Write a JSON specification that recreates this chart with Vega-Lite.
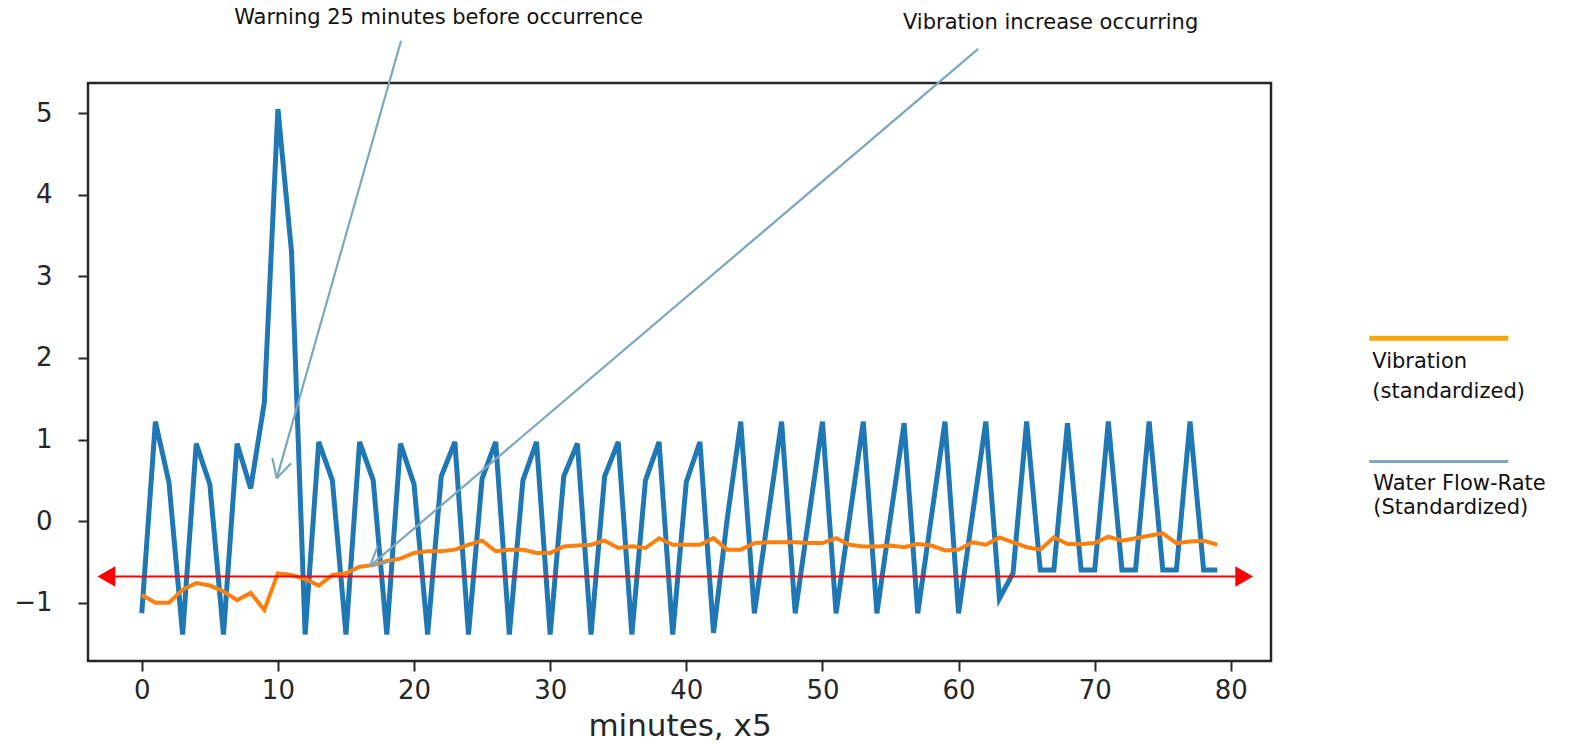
{
  "$schema": "https://vega.github.io/schema/vega-lite/v6.json",
  "width": 1183,
  "height": 578,
  "autosize": "none",
  "padding": {"left": 88, "top": 83, "right": 302, "bottom": 83},
  "background": "white",
  "config": {
    "view": {"stroke": "#262626", "strokeWidth": 2.5},
    "font": "DejaVu Sans"
  },
  "data": {"values": [{}]},
  "datasets": {
    "series": [
      {"t": 0, "flow": -1.13, "vib": -0.905},
      {"t": 1, "flow": 1.22, "vib": -1.0},
      {"t": 2, "flow": 0.47, "vib": -1.0},
      {"t": 3, "flow": -1.39, "vib": -0.84},
      {"t": 4, "flow": 0.95, "vib": -0.76},
      {"t": 5, "flow": 0.45, "vib": -0.79},
      {"t": 6, "flow": -1.39, "vib": -0.86},
      {"t": 7, "flow": 0.95, "vib": -0.97},
      {"t": 8, "flow": 0.4, "vib": -0.88},
      {"t": 9, "flow": 1.45, "vib": -1.09},
      {"t": 10, "flow": 5.05, "vib": -0.64},
      {"t": 11, "flow": 3.3, "vib": -0.66},
      {"t": 12, "flow": -1.39, "vib": -0.71},
      {"t": 13, "flow": 0.97, "vib": -0.79},
      {"t": 14, "flow": 0.5, "vib": -0.66},
      {"t": 15, "flow": -1.39, "vib": -0.64},
      {"t": 16, "flow": 0.97, "vib": -0.56},
      {"t": 17, "flow": 0.5, "vib": -0.54},
      {"t": 18, "flow": -1.39, "vib": -0.49},
      {"t": 19, "flow": 0.95, "vib": -0.46},
      {"t": 20, "flow": 0.45, "vib": -0.39},
      {"t": 21, "flow": -1.39, "vib": -0.37},
      {"t": 22, "flow": 0.55, "vib": -0.37},
      {"t": 23, "flow": 0.97, "vib": -0.35},
      {"t": 24, "flow": -1.39, "vib": -0.29},
      {"t": 25, "flow": 0.52, "vib": -0.24},
      {"t": 26, "flow": 0.97, "vib": -0.37},
      {"t": 27, "flow": -1.39, "vib": -0.35},
      {"t": 28, "flow": 0.5, "vib": -0.35},
      {"t": 29, "flow": 0.97, "vib": -0.39},
      {"t": 30, "flow": -1.39, "vib": -0.39},
      {"t": 31, "flow": 0.55, "vib": -0.31},
      {"t": 32, "flow": 0.95, "vib": -0.3},
      {"t": 33, "flow": -1.39, "vib": -0.29},
      {"t": 34, "flow": 0.55, "vib": -0.24},
      {"t": 35, "flow": 0.97, "vib": -0.33},
      {"t": 36, "flow": -1.39, "vib": -0.31},
      {"t": 37, "flow": 0.5, "vib": -0.33},
      {"t": 38, "flow": 0.97, "vib": -0.21},
      {"t": 39, "flow": -1.39, "vib": -0.29},
      {"t": 40, "flow": 0.48, "vib": -0.29},
      {"t": 41, "flow": 0.97, "vib": -0.29},
      {"t": 42, "flow": -1.37, "vib": -0.21},
      {"t": 43, "flow": 0.02, "vib": -0.35},
      {"t": 44, "flow": 1.22, "vib": -0.35},
      {"t": 45, "flow": -1.13, "vib": -0.27},
      {"t": 46, "flow": 0.05, "vib": -0.26},
      {"t": 47, "flow": 1.22, "vib": -0.26},
      {"t": 48, "flow": -1.13, "vib": -0.26},
      {"t": 49, "flow": 0.05, "vib": -0.27},
      {"t": 50, "flow": 1.22, "vib": -0.27},
      {"t": 51, "flow": -1.13, "vib": -0.21},
      {"t": 52, "flow": 0.05, "vib": -0.29},
      {"t": 53, "flow": 1.22, "vib": -0.31},
      {"t": 54, "flow": -1.13, "vib": -0.31},
      {"t": 55, "flow": 0.05, "vib": -0.3},
      {"t": 56, "flow": 1.2, "vib": -0.32},
      {"t": 57, "flow": -1.13, "vib": -0.28},
      {"t": 58, "flow": 0.05, "vib": -0.3},
      {"t": 59, "flow": 1.22, "vib": -0.36},
      {"t": 60, "flow": -1.13, "vib": -0.35},
      {"t": 61, "flow": 0.05, "vib": -0.26},
      {"t": 62, "flow": 1.22, "vib": -0.29},
      {"t": 63, "flow": -0.95, "vib": -0.2},
      {"t": 64, "flow": -0.64, "vib": -0.26},
      {"t": 65, "flow": 1.22, "vib": -0.32},
      {"t": 66, "flow": -0.6, "vib": -0.35},
      {"t": 67, "flow": -0.6, "vib": -0.2},
      {"t": 68, "flow": 1.2, "vib": -0.28},
      {"t": 69, "flow": -0.6, "vib": -0.28},
      {"t": 70, "flow": -0.6, "vib": -0.27},
      {"t": 71, "flow": 1.22, "vib": -0.19},
      {"t": 72, "flow": -0.6, "vib": -0.24},
      {"t": 73, "flow": -0.6, "vib": -0.21},
      {"t": 74, "flow": 1.22, "vib": -0.18},
      {"t": 75, "flow": -0.6, "vib": -0.15},
      {"t": 76, "flow": -0.6, "vib": -0.27},
      {"t": 77, "flow": 1.22, "vib": -0.25},
      {"t": 78, "flow": -0.6, "vib": -0.24},
      {"t": 79, "flow": -0.6, "vib": -0.29}
    ]
  },
  "layer": [
    {
      "data": {"name": "series"},
      "mark": {"type": "line", "color": "#1f77b4", "strokeWidth": 5},
      "encoding": {
        "x": {
          "field": "t", "type": "quantitative",
          "scale": {"domain": [-3.95, 82.95], "nice": false, "zero": false},
          "axis": {
            "title": "minutes, x5", "values": [0, 10, 20, 30, 40, 50, 60, 70, 80],
            "grid": false, "domain": false, "tickSize": 10, "tickWidth": 2, "tickColor": "#262626",
            "labelFont": "DejaVu Sans", "labelFontSize": 26, "labelColor": "#262626", "labelPadding": 6,
            "titleFont": "DejaVu Sans", "titleFontSize": 31, "titleFontWeight": "normal", "titleColor": "#262626", "titlePadding": 8
          }
        },
        "y": {
          "field": "flow", "type": "quantitative",
          "scale": {"domain": [-1.715, 5.37], "nice": false, "zero": false},
          "axis": {
            "title": null, "values": [-1, 0, 1, 2, 3, 4, 5], "format": "d",
            "grid": false, "domain": false, "tickSize": 10, "tickWidth": 2, "tickColor": "#262626",
            "labelFont": "DejaVu Sans", "labelFontSize": 26, "labelColor": "#262626", "labelPadding": 26
          }
        }
      }
    },
    {
      "data": {"name": "series"},
      "mark": {"type": "line", "color": "#ff7f0e", "strokeWidth": 4},
      "encoding": {
        "x": {"field": "t", "type": "quantitative"},
        "y": {"field": "vib", "type": "quantitative"}
      }
    },
    {
      "mark": {"type": "rule", "color": "#ff0000", "strokeWidth": 2, "clip": false},
      "encoding": {
        "x": {"datum": -2.9, "type": "quantitative"},
        "x2": {"datum": 81.3},
        "y": {"datum": -0.679, "type": "quantitative"}
      }
    },
    {
      "mark": {"type": "point", "shape": "triangle-left", "filled": true, "color": "#ff0000", "size": 420, "opacity": 1, "clip": false},
      "encoding": {
        "x": {"datum": -2.6, "type": "quantitative"},
        "y": {"datum": -0.679, "type": "quantitative"}
      }
    },
    {
      "mark": {"type": "point", "shape": "triangle-right", "filled": true, "color": "#ff0000", "size": 420, "opacity": 1, "clip": false},
      "encoding": {
        "x": {"datum": 80.98, "type": "quantitative"},
        "y": {"datum": -0.679, "type": "quantitative"}
      }
    },
    {
      "mark": {"type": "rule", "color": "#7ba7bd", "strokeWidth": 2.2, "clip": false},
      "encoding": {
        "x": {"datum": 19.045, "type": "quantitative"}, "y": {"datum": 5.888, "type": "quantitative"},
        "x2": {"datum": 9.912}, "y2": {"datum": 0.524}
      }
    },
    {
      "mark": {"type": "rule", "color": "#7ba7bd", "strokeWidth": 2.2, "clip": false},
      "encoding": {
        "x": {"datum": 9.912, "type": "quantitative"}, "y": {"datum": 0.524, "type": "quantitative"},
        "x2": {"datum": 9.589}, "y2": {"datum": 0.775}
      }
    },
    {
      "mark": {"type": "rule", "color": "#7ba7bd", "strokeWidth": 2.2, "clip": false},
      "encoding": {
        "x": {"datum": 9.912, "type": "quantitative"}, "y": {"datum": 0.524, "type": "quantitative"},
        "x2": {"datum": 10.977}, "y2": {"datum": 0.71}
      }
    },
    {
      "mark": {"type": "rule", "color": "#7ba7bd", "strokeWidth": 2.2, "clip": false},
      "encoding": {
        "x": {"datum": 61.44, "type": "quantitative"}, "y": {"datum": 5.788, "type": "quantitative"},
        "x2": {"datum": 16.77}, "y2": {"datum": -0.55}
      }
    },
    {
      "mark": {"type": "rule", "color": "#7ba7bd", "strokeWidth": 2.2, "clip": false},
      "encoding": {
        "x": {"datum": 16.77, "type": "quantitative"}, "y": {"datum": -0.55, "type": "quantitative"},
        "x2": {"datum": 17.33}, "y2": {"datum": -0.308}
      }
    },
    {
      "mark": {"type": "rule", "color": "#7ba7bd", "strokeWidth": 2.2, "clip": false},
      "encoding": {
        "x": {"datum": 16.77, "type": "quantitative"}, "y": {"datum": -0.55, "type": "quantitative"},
        "x2": {"datum": 18.27}, "y2": {"datum": -0.494}
      }
    },
    {
      "mark": {"type": "text", "text": "Warning 25 minutes before occurrence", "font": "DejaVu Sans", "fontSize": 21, "color": "#111111", "align": "center", "baseline": "middle", "clip": false},
      "encoding": {
        "x": {"datum": 21.8, "type": "quantitative"},
        "y": {"datum": 6.17, "type": "quantitative"}
      }
    },
    {
      "mark": {"type": "text", "text": "Vibration increase occurring", "font": "DejaVu Sans", "fontSize": 21, "color": "#111111", "align": "center", "baseline": "middle", "clip": false},
      "encoding": {
        "x": {"datum": 66.76, "type": "quantitative"},
        "y": {"datum": 6.11, "type": "quantitative"}
      }
    },
    {
      "mark": {"type": "rule", "color": "#f5a70a", "strokeWidth": 5, "clip": false},
      "encoding": {
        "x": {"datum": 90.17, "type": "quantitative"}, "x2": {"datum": 100.38},
        "y": {"datum": 2.241, "type": "quantitative"}
      }
    },
    {
      "mark": {"type": "rule", "color": "#7ea6bd", "strokeWidth": 3, "clip": false},
      "encoding": {
        "x": {"datum": 90.17, "type": "quantitative"}, "x2": {"datum": 100.38},
        "y": {"datum": 0.729, "type": "quantitative"}
      }
    },
    {
      "mark": {"type": "text", "text": ["Vibration", "(standardized)"], "lineHeight": 30, "font": "DejaVu Sans", "fontSize": 21, "color": "#111111", "align": "left", "baseline": "top", "clip": false},
      "encoding": {
        "x": {"datum": 90.39, "type": "quantitative"},
        "y": {"datum": 2.09, "type": "quantitative"}
      }
    },
    {
      "mark": {"type": "text", "text": ["Water Flow-Rate", "(Standardized)"], "lineHeight": 24, "font": "DejaVu Sans", "fontSize": 21, "color": "#111111", "align": "left", "baseline": "top", "clip": false},
      "encoding": {
        "x": {"datum": 90.46, "type": "quantitative"},
        "y": {"datum": 0.585, "type": "quantitative"}
      }
    }
  ]
}
